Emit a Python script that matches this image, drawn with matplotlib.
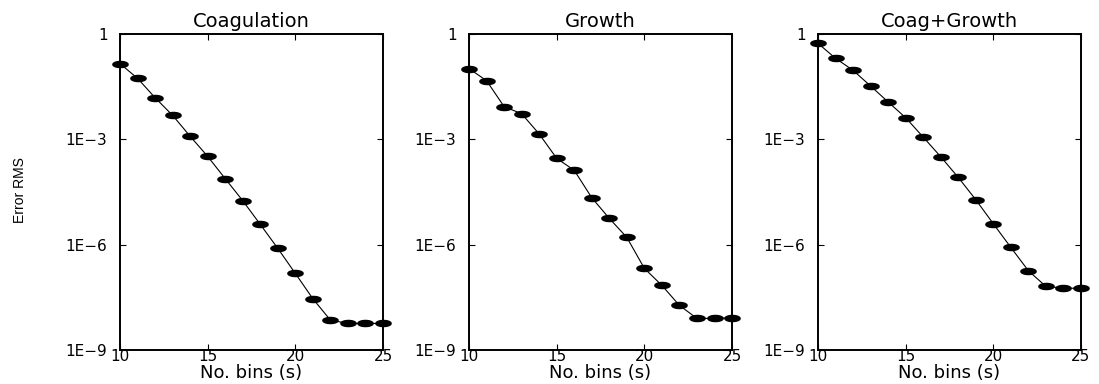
import numpy as np
import matplotlib
matplotlib.use("Agg")
import matplotlib.pyplot as plt
from matplotlib.ticker import NullLocator

# number of bins (s)
bins = [10, 11, 12, 13, 14, 15, 16, 17, 18, 19, 20, 21, 22, 23, 24, 25]

titles = ["Coagulation", "Growth", "Coag+Growth"]

err_coag = [1.43e-1, 5.46e-2, 1.53e-2, 4.82e-3, 1.22e-3, 3.27e-4, 7.57e-5, 1.79e-5,
            3.78e-6, 7.83e-7, 1.52e-7, 2.88e-8, 7.11e-9, 5.71e-9, 5.71e-9, 5.71e-9]
err_growth = [1.03e-1, 4.68e-2, 8.51e-3, 5.37e-3, 1.42e-3, 2.87e-4, 1.31e-4, 2.17e-5,
              5.60e-6, 1.61e-6, 2.11e-7, 6.92e-8, 1.86e-8, 7.94e-9, 7.94e-9, 8.28e-9]
err_both = [5.42e-1, 2.03e-1, 9.23e-2, 3.30e-2, 1.16e-2, 4.13e-3, 1.16e-3, 3.20e-4,
            8.24e-5, 1.91e-5, 3.94e-6, 8.36e-7, 1.81e-7, 6.47e-8, 5.81e-8, 5.68e-8]

yticks = [1, 1e-3, 1e-6, 1e-9]
ytick_labels = ["1", "1E\u22123", "1E\u22126", "1E\u22129"]
xticks = [10, 15, 20, 25]

plt.rcParams['font.family'] = ['DejaVu Sans']

# squashed circle, like the stretched markers of the original
t = np.linspace(0, 2 * np.pi, 41)
ellipse = list(zip(np.cos(t), 0.4 * np.sin(t)))

fig = plt.figure(figsize=(10.99, 3.84), dpi=100)
lefts = [0.1092, 0.4268, 0.7443]
series = [err_coag, err_growth, err_both]

for left, title, err in zip(lefts, titles, series):
    ax = fig.add_axes([left, 0.0885, 0.2393, 0.823])
    ax.plot(bins, err, color='black', lw=0.8, marker=ellipse, markersize=11,
            markerfacecolor='black', markeredgecolor='black', clip_on=False, zorder=3)
    ax.set_yscale('log')
    ax.set_ylim(1e-9, 1)
    ax.set_xlim(10, 25)
    ax.set_yticks(yticks)
    ax.set_yticklabels(ytick_labels)
    ax.yaxis.set_minor_locator(NullLocator())
    ax.set_xticks(xticks)
    ax.tick_params(direction='in', length=4, width=0.8, top=True, right=True,
                   labelsize=11)
    ax.tick_params(axis='x', pad=-1)
    ax.tick_params(axis='y', pad=9)
    for sp in ax.spines.values():
        sp.set_linewidth(1.4)
    ax.set_title(title, fontsize=14, pad=5)
    ax.set_xlabel("No. bins (s)", fontsize=13, labelpad=0)

fig.text(20 / 1099, 1 - 190 / 384, "Error RMS", rotation=90, ha='center', va='center',
         fontsize=10, family=['Liberation Sans Narrow', 'Liberation Sans'])

fig.savefig("out.png", dpi=100)
